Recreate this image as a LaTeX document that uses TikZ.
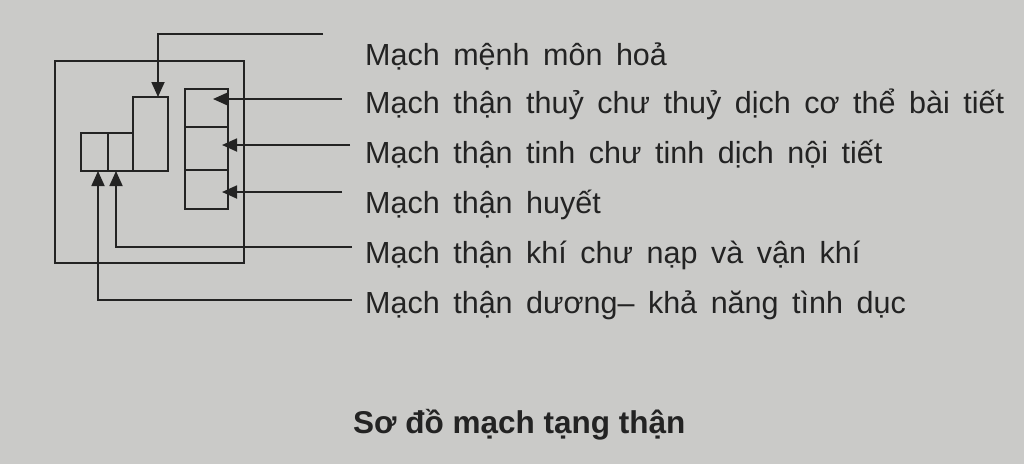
\documentclass[tikz,border=0pt]{standalone}
\usepackage{fontspec}
\setmainfont{Liberation Sans}
\newfontfamily\lblfont{Liberation Sans}[WordSpace=1.6]
\usetikzlibrary{arrows.meta}
\definecolor{paper}{RGB}{202,202,200}
\definecolor{ink}{RGB}{35,35,35}
\begin{document}
\begin{tikzpicture}[x=1pt,y=-1pt,
  box/.style={draw=ink, line width=1.8pt, inner sep=0pt, outer sep=0pt, anchor=north west},
  conn/.style={draw=ink, line width=1.8pt},
  arr/.style={conn, -{Triangle[length=15pt,width=13pt]}},
  lbl/.style={anchor=base west, inner sep=0pt, text=ink, font=\lblfont\fontsize{30.5}{32}\selectfont},
  captionstyle/.style={anchor=base west, inner sep=0pt, text=ink, font=\bfseries\fontsize{31.5}{34}\selectfont}]
\fill[paper] (0,0) rectangle (1024,464);
\useasboundingbox (0,0) rectangle (1024,464);
% boxes
\node[box, minimum width=189pt, minimum height=202pt] (frame) at (55,61) {};
\node[box, minimum width=35pt, minimum height=74pt] (tall) at (133,97) {};
\node[box, minimum width=27pt, minimum height=38pt] (sa) at (81,133) {};
\node[box, minimum width=25pt, minimum height=38pt] (sb) at (108,133) {};
\node[box, minimum width=43pt, minimum height=38pt] (s1) at (185,89) {};
\node[box, minimum width=43pt, minimum height=43pt] (s2) at (185,127) {};
\node[box, minimum width=43pt, minimum height=39pt] (s3) at (185,170) {};
% labels
\node[lbl] (l1) at (365,65) {Mạch mệnh môn hoả};
\node[lbl] (l2) at (365,113) {Mạch thận thuỷ chư thuỷ dịch cơ thể bài tiết};
\node[lbl] (l3) at (365,163) {Mạch thận tinh chư tinh dịch nội tiết};
\node[lbl] (l4) at (365,213) {Mạch thận huyết};
\node[lbl] (l5) at (365,263) {Mạch thận khí chư nạp và vận khí};
\node[lbl] (l6) at (365,313) {Mạch thận dương– khả năng tình dục};
\node[captionstyle] (cap) at (353,433) {Sơ đồ mạch tạng thận};
% connector ends
\coordinate (e1) at (323,34);
\coordinate (e2) at (342,99);
\coordinate (e3) at (350,145);
\coordinate (e4) at (342,192);
\coordinate (e5) at (352,247);
\coordinate (e6) at (352,300);
% connectors
\draw[arr] (e1) -| ([xshift=7.5pt]tall.north);
\draw[arr, shorten >=28pt] (e2) -- (e2 -| s1.west);
\draw[arr, shorten >=37pt] (e3) -- (e3 -| s2.west);
\draw[arr, shorten >=37pt] (e4) -- (e4 -| s3.west);
\draw[arr] (e5) -| ([xshift=-4.5pt]sb.south);
\draw[arr] (e6) -| ([xshift=3.5pt]sa.south);
\end{tikzpicture}
\end{document}
